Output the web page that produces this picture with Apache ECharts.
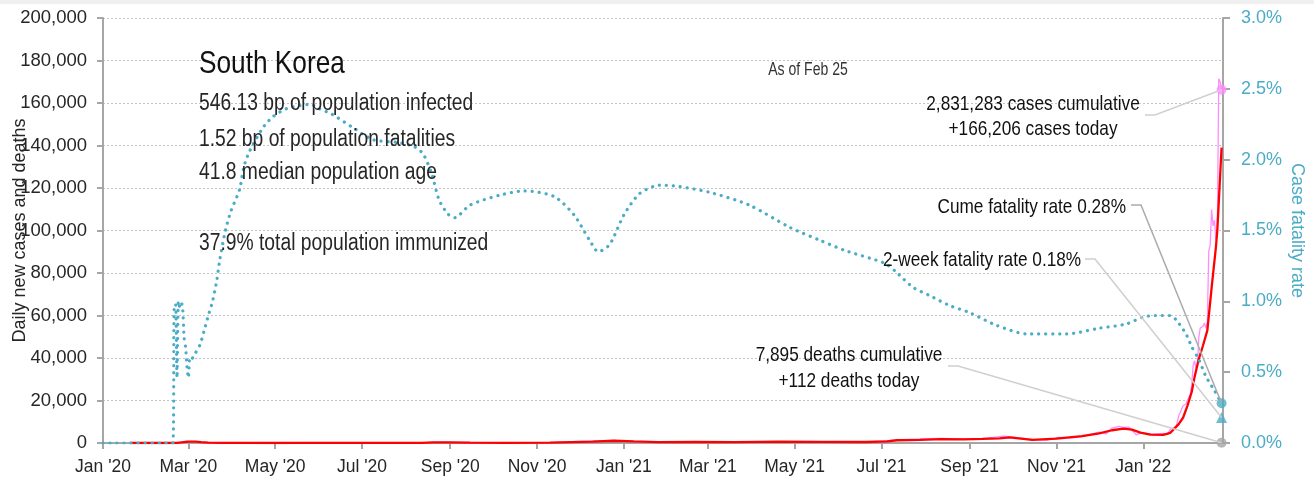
<!DOCTYPE html>
<html>
<head>
<meta charset="utf-8">
<title>South Korea – daily cases, deaths and case fatality rate</title>
<script src="https://cdn.jsdelivr.net/npm/echarts@6/dist/echarts.min.js"></script>
<style>
  html, body { margin: 0; padding: 0; background: #fff; }
  #chart { width: 1314px; height: 482px; }
</style>
</head>
<body>
<div id="chart"></div>
<script>
// ---- data -------------------------------------------------------------
// x-axis tick positions (first day of every other month) and their labels
const xTickDates  = ['2020-01-01','2020-03-01','2020-05-01','2020-07-01','2020-09-01','2020-11-01',
                     '2021-01-01','2021-03-01','2021-05-01','2021-07-01','2021-09-01','2021-11-01','2022-01-01'];
const xTickLabels = ["Jan '20","Mar '20","May '20","Jul '20","Sep '20","Nov '20",
                     "Jan '21","Mar '21","May '21","Jul '21","Sep '21","Nov '21","Jan '22"];

// daily new cases
const dailyCases = [
  ['2020-01-20',1],['2020-02-18',1],['2020-02-21',100],['2020-02-24',230],['2020-02-26',280],
  ['2020-02-29',900],['2020-03-02',590],['2020-03-04',500],['2020-03-06',520],['2020-03-09',250],
  ['2020-03-15',80],['2020-04-01',100],['2020-04-20',10],['2020-05-10',30],['2020-06-01',40],
  ['2020-07-01',50],['2020-08-10',30],['2020-08-27',440],['2020-09-10',170],['2020-10-10',70],
  ['2020-11-10',140],['2020-11-26',580],['2020-12-13',1030],['2020-12-25',1240],['2021-01-10',660],
  ['2021-01-25',440],['2021-02-17',620],['2021-03-20',450],['2021-04-20',550],['2021-05-20',650],
  ['2021-06-20',360],['2021-07-07',1210],['2021-07-14',1610],['2021-07-28',1890],['2021-08-11',2220],
  ['2021-08-26',1880],['2021-09-10',2050],['2021-09-25',3270],['2021-10-06',2430],['2021-10-15',1680],
  ['2021-10-25',1260],['2021-11-02',2670],['2021-11-12',2370],['2021-11-19',3030],['2021-11-25',4110],
  ['2021-12-01',5120],['2021-12-06',4320],['2021-12-10',7020],['2021-12-15',7850],['2021-12-18',7310],
  ['2021-12-22',7450],['2021-12-27',3860],['2021-12-31',4870],['2022-01-04',4440],['2022-01-08',4220],
  ['2022-01-12',4380],['2022-01-15',4540],['2022-01-18',4070],['2022-01-20',6600],['2022-01-22',7000],
  ['2022-01-24',7510],['2022-01-26',13010],['2022-01-27',14520],['2022-01-28',16100],['2022-01-29',17540],
  ['2022-01-31',18340],['2022-02-01',20270],['2022-02-03',22910],['2022-02-04',27440],['2022-02-05',36360],
  ['2022-02-06',38690],['2022-02-07',35290],['2022-02-08',36720],['2022-02-09',49570],['2022-02-10',54120],
  ['2022-02-12',54940],['2022-02-13',56430],['2022-02-14',53930],['2022-02-15',57180],['2022-02-16',90440],
  ['2022-02-17',93140],['2022-02-18',109830],['2022-02-19',102210],['2022-02-20',104830],['2022-02-21',95360],
  ['2022-02-22',99570],['2022-02-23',171450],['2022-02-24',170020],['2022-02-25',166206]
];

// smoothed daily new cases
const avgCases = [
  ['2020-01-20',1],['2020-02-18',5],['2020-02-22',60],['2020-02-25',250],['2020-02-28',500],
  ['2020-03-02',650],['2020-03-06',650],['2020-03-10',400],['2020-03-15',150],['2020-03-25',100],
  ['2020-04-10',40],['2020-05-01',10],['2020-05-15',25],['2020-06-10',45],['2020-07-10',45],
  ['2020-08-12',40],['2020-08-20',250],['2020-08-30',320],['2020-09-15',130],['2020-10-10',80],
  ['2020-11-10',130],['2020-11-25',450],['2020-12-10',650],['2020-12-25',1050],['2021-01-08',750],
  ['2021-01-25',420],['2021-02-20',500],['2021-03-20',430],['2021-04-20',650],['2021-05-20',560],
  ['2021-06-20',480],['2021-07-05',800],['2021-07-12',1300],['2021-07-28',1500],['2021-08-12',1800],
  ['2021-08-28',1700],['2021-09-10',1900],['2021-09-22',2200],['2021-09-29',2600],['2021-10-15',1500],
  ['2021-11-01',2100],['2021-11-19',3200],['2021-12-01',4500],['2021-12-10',6000],['2021-12-18',6800],
  ['2021-12-24',6300],['2021-12-30',4900],['2022-01-06',3900],['2022-01-15',3800],['2022-01-20',4800],
  ['2022-01-23',6900],['2022-01-26',9000],['2022-01-29',12000],['2022-02-01',17500],['2022-02-04',24000],
  ['2022-02-06',31000],['2022-02-09',39500],['2022-02-12',46000],['2022-02-15',53000],['2022-02-18',73000],
  ['2022-02-21',92000],['2022-02-22',100000],['2022-02-23',113000],['2022-02-24',126000],['2022-02-25',139000]
];

// daily deaths
const dailyDeaths = [
  ['2020-02-20',1],['2020-03-10',6],['2020-04-01',5],['2020-06-01',0],['2020-09-01',3],
  ['2020-12-25',20],['2021-01-15',15],['2021-04-01',5],['2021-08-01',5],['2021-10-01',10],
  ['2021-12-20',70],['2022-01-10',40],['2022-01-30',20],['2022-02-15',40],['2022-02-25',112]
];

// cumulative case fatality rate, %
const cumeFatalityRate = [
  ['2020-01-01',0],['2020-02-19',0],['2020-02-20',0.96],['2020-02-21',0.98],['2020-02-22',0.46],
  ['2020-02-23',1.0],['2020-02-24',0.96],['2020-02-25',0.99],['2020-02-26',0.95],['2020-02-27',0.74],
  ['2020-02-28',0.68],['2020-02-29',0.54],['2020-03-01',0.46],['2020-03-02',0.6],['2020-03-03',0.59],
  ['2020-03-05',0.62],['2020-03-09',0.69],['2020-03-12',0.79],['2020-03-15',0.9],['2020-03-18',1.0],
  ['2020-03-21',1.15],['2020-03-23',1.29],['2020-03-27',1.50],['2020-03-31',1.64],['2020-04-06',1.79],
  ['2020-04-09',1.95],['2020-04-13',2.06],['2020-04-22',2.22],['2020-04-29',2.30],['2020-05-09',2.36],
  ['2020-05-26',2.39],['2020-06-01',2.36],['2020-06-10',2.32],['2020-06-24',2.23],['2020-07-09',2.14],
  ['2020-07-27',2.12],['2020-08-07',2.09],['2020-08-13',2.04],['2020-08-19',1.90],['2020-08-24',1.72],
  ['2020-08-30',1.62],['2020-09-04',1.59],['2020-09-15',1.68],['2020-10-06',1.75],['2020-10-23',1.78],
  ['2020-11-13',1.74],['2020-11-27',1.61],['2020-12-08',1.43],['2020-12-14',1.35],['2020-12-22',1.40],
  ['2021-01-01',1.61],['2021-01-12',1.76],['2021-01-26',1.82],['2021-02-09',1.81],['2021-03-02',1.77],
  ['2021-03-30',1.68],['2021-04-28',1.52],['2021-05-19',1.43],['2021-06-05',1.36],['2021-07-03',1.27],
  ['2021-07-11',1.21],['2021-07-23',1.10],['2021-08-04',1.04],['2021-08-18',0.97],['2021-09-01',0.92],
  ['2021-09-20',0.83],['2021-10-11',0.77],['2021-11-08',0.77],['2021-12-01',0.81],['2021-12-20',0.84],
  ['2022-01-01',0.89],['2022-01-10',0.90],['2022-01-20',0.90],['2022-01-24',0.87],['2022-01-31',0.77],
  ['2022-02-04',0.68],['2022-02-09',0.59],['2022-02-14',0.47],['2022-02-20',0.37],['2022-02-25',0.28]
];

// latest figures
const lastDate         = '2022-02-25';
const casesCumulative  = 2831283;
const casesToday       = 166206;
const deathsCumulative = 7895;
const deathsToday      = 112;
const cumeRate         = 0.28;
const twoWeekRate      = 0.18;

// country facts
const countryName = 'South Korea';
const factLines   = ['546.13 bp of population infected', '1.52 bp of population fatalities',
                     '41.8 median population age', '37.9% total population immunized'];
const asOfText    = 'As of Feb 25';

// ---- helpers ----------------------------------------------------------
// dates become day numbers counted from 1 Jan 2020
const DAY0 = Date.UTC(2020, 0, 1);
function d(s) { const p = s.split('-').map(Number); return Math.round((Date.UTC(p[0], p[1] - 1, p[2]) - DAY0) / 86400000); }
const fmt = n => n.toLocaleString('en-US');
const toDays = arr => arr.map(r => [d(r[0]), r[1]]);
const xTickDays = xTickDates.map(d);

const FONT = '"Liberation Sans", Arial, sans-serif';
const NARROW = 0.82;   // horizontal squeeze for the condensed annotation text
const TEAL = '#4bacc6';
const PINK = '#ff8cff';
const RED = '#ff0000';
const GREY = '#a6a6a6';
const INK = '#262626';

// ---- chart ------------------------------------------------------------
const chart = echarts.init(document.getElementById('chart'), null, { renderer: 'canvas' });

chart.setOption({
  animation: false,
  backgroundColor: '#ffffff',
  grid: { left: 103, right: 91, top: 18, bottom: 39, containLabel: false, outerBoundsMode: 'none' },
  xAxis: {
    type: 'value',
    min: d('2020-01-01'),
    max: d('2022-02-26'),
    axisLine: { lineStyle: { color: GREY, width: 2 } },
    axisTick: { customValues: xTickDays, length: 6, lineStyle: { color: GREY, width: 2 } },
    axisLabel: {
      customValues: xTickDays,
      formatter: v => { const i = xTickDays.indexOf(v); return i >= 0 ? xTickLabels[i] : ''; },
      fontFamily: FONT, fontSize: 17.5, color: INK, margin: 15
    },
    splitLine: { show: false }
  },
  yAxis: [
    {
      type: 'value', position: 'left', min: 0, max: 200000, interval: 20000,
      name: 'Daily new cases and deaths', nameLocation: 'middle', nameGap: 74, nameMoveOverlap: false,
      nameTextStyle: { fontFamily: FONT, fontSize: 18, color: INK },
      axisLine: { show: true, lineStyle: { color: GREY, width: 2 } },
      axisTick: { show: true, length: 6, lineStyle: { color: GREY, width: 2 } },
      axisLabel: { formatter: v => fmt(v), fontFamily: FONT, fontSize: 18.5, color: INK, margin: 16 },
      splitLine: { show: true, lineStyle: { color: '#c4c4c4', width: 1, type: [2, 2] } }
    },
    {
      type: 'value', position: 'right', min: 0, max: 3, interval: 0.5,
      name: 'Case fatality rate', nameLocation: 'middle', nameGap: 65, nameRotate: -90, nameMoveOverlap: false,
      nameTextStyle: { fontFamily: FONT, fontSize: 18, color: TEAL },
      axisLine: { show: true, lineStyle: { color: GREY, width: 2 } },
      axisTick: { show: true, length: 7, lineStyle: { color: GREY, width: 2 } },
      axisLabel: { formatter: v => v.toFixed(1) + '%', fontFamily: FONT, fontSize: 18, color: TEAL, margin: 18 },
      splitLine: { show: false }
    }
  ],
  series: [
    {
      name: 'Daily cases', type: 'line', yAxisIndex: 0, data: toDays(dailyCases),
      symbol: 'none', lineStyle: { color: PINK, width: 1.3 }, z: 2
    },
    {
      name: 'Average cases', type: 'line', yAxisIndex: 0, data: toDays(avgCases),
      symbol: 'none', lineStyle: { color: RED, width: 2.3 }, z: 3
    },
    {
      name: 'Daily deaths', type: 'line', yAxisIndex: 0, data: toDays(dailyDeaths),
      symbol: 'none', lineStyle: { color: GREY, width: 1 }, z: 1
    },
    {
      name: 'Cume fatality rate', type: 'line', yAxisIndex: 1, data: toDays(cumeFatalityRate),
      symbol: 'none', smooth: 0.25,
      lineStyle: { color: TEAL, width: 3.2, type: [0.1, 6.9], cap: 'round' }, z: 4
    },
    // end-of-series markers
    {
      type: 'scatter', yAxisIndex: 0, data: [[d(lastDate), casesToday]],
      symbol: 'circle', symbolSize: 10, itemStyle: { color: PINK }, z: 6
    },
    {
      type: 'scatter', yAxisIndex: 1, data: [[d(lastDate), cumeRate]],
      symbol: 'circle', symbolSize: 10, itemStyle: { color: TEAL }, z: 6
    },
    {
      type: 'scatter', yAxisIndex: 1, data: [[d(lastDate), twoWeekRate]],
      symbol: 'triangle', symbolSize: 11, itemStyle: { color: TEAL }, z: 6
    },
    {
      type: 'scatter', yAxisIndex: 0, data: [[d(lastDate), deathsToday]],
      symbol: 'circle', symbolSize: 10, itemStyle: { color: GREY }, z: 6, clip: false
    }
  ]
});

// ---- text and leader lines ---------------------------------------------
function txt(text, x, y, size, align, color, squeeze) {
  return {
    type: 'text', x: x, y: y, z: 20, silent: true, scaleX: squeeze || NARROW,
    style: {
      text: text, font: size + 'px ' + FONT, fill: color || '#111',
      align: align, textAlign: align, verticalAlign: 'middle', textVerticalAlign: 'middle'
    }
  };
}
function leader(startX, startY, seriesIndex, value, color) {
  const end = chart.convertToPixel({ seriesIndex: seriesIndex }, [d(lastDate), value]);
  return {
    type: 'polyline', z: 15, silent: true,
    shape: { points: [[startX, startY], [startX + 10, startY], end] },
    style: { stroke: color, lineWidth: 1.5, fill: null }
  };
}

chart.setOption({
  graphic: [
    { type: 'rect', z: 30, silent: true, shape: { x: 0, y: 0, width: 1314, height: 4 }, style: { fill: '#f0f0f0' } },
    txt(countryName, 199, 64, 32, 'left', '#111'),
    txt(factLines[0], 199, 104, 23.5, 'left', INK),
    txt(factLines[1], 199, 140, 23.5, 'left', INK),
    txt(factLines[2], 199, 173, 23.5, 'left', INK),
    txt(factLines[3], 199, 244, 23.5, 'left', INK),
    txt(asOfText, 808, 70, 18, 'center', '#333', 0.78),
    txt(fmt(casesCumulative) + ' cases cumulative', 1033, 104, 21, 'center'),
    txt('+' + fmt(casesToday) + ' cases today', 1033, 129, 21, 'center'),
    txt('Cume fatality rate ' + cumeRate.toFixed(2) + '%', 1126, 207, 21, 'right'),
    txt('2-week fatality rate ' + twoWeekRate.toFixed(2) + '%', 883, 260, 21, 'left'),
    txt(fmt(deathsCumulative) + ' deaths cumulative', 849, 355, 21, 'center'),
    txt('+' + fmt(deathsToday) + ' deaths today', 849, 381, 21, 'center'),
    leader(1145, 115, 4, casesToday, '#d0d0d0'),
    leader(1131, 205, 5, cumeRate, '#ababab'),
    leader(1085, 259, 6, twoWeekRate, '#cfcfcf'),
    leader(948, 366, 7, deathsToday, '#cfcfcf')
  ]
});
</script>
</body>
</html>
